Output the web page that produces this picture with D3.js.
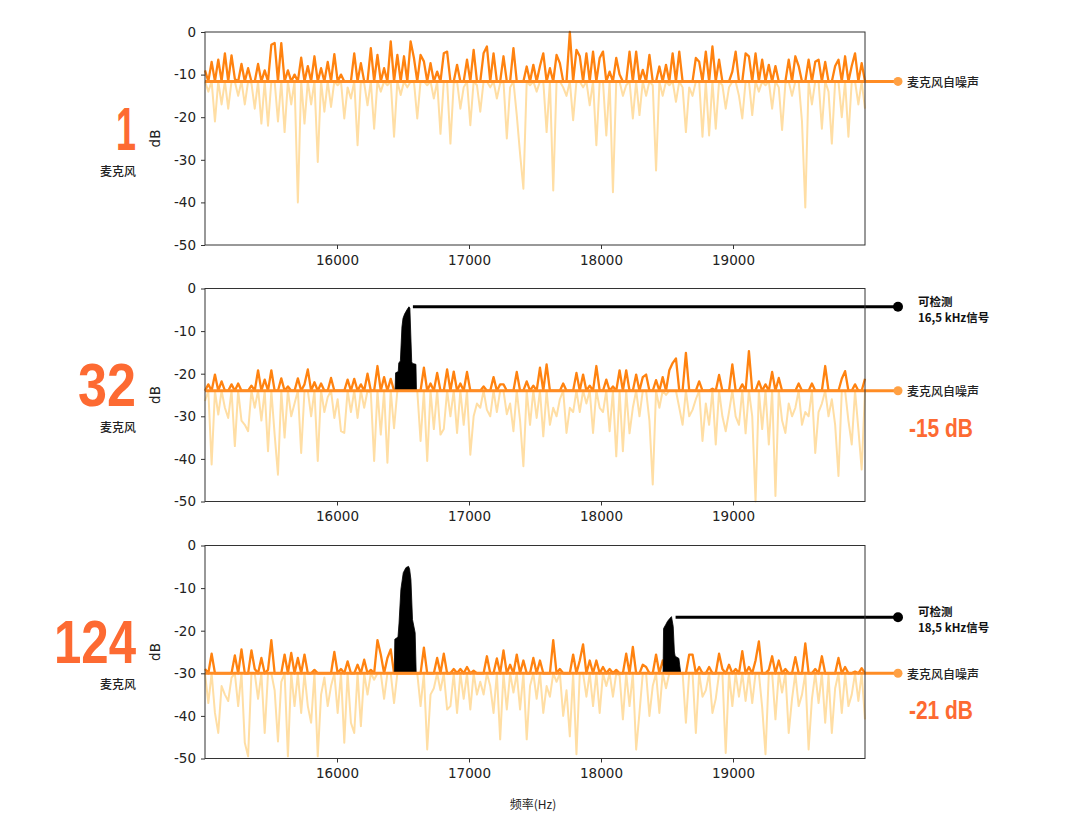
<!DOCTYPE html>
<html><head><meta charset="utf-8">
<script src="https://cdn.jsdelivr.net/npm/d3@7"></script>
<style>
html,body{margin:0;padding:0;background:#fff;}
svg{display:block;}
</style></head>
<body>
<script>
// ---------------- data ----------------
const micCounts = ["1", "32", "124"];
const micLabel = "麦克风";
const noiseLabel = "麦克风自噪声";
const detectLabel = "可检测";
const xTicks = [16000, 17000, 18000, 19000];
const yTicks = [0, -10, -20, -30, -40, -50];
const xDomain = [15000, 20000];
const yDomain = [-50, 0];
const noiseFloors = [-11.6, -24, -30];
const gainLabels = [null, "-15 dB", "-21 dB"];
const xLabel = "频率(Hz)";
const yLabel = "dB";

// spectrum samples (dB), 200 evenly spaced samples from 15000 to 20000 Hz
const noise1 = [-9,-14,-7,-21,-6.5,-17,-5,-18,-5.5,-11,-15,-7.5,-17,-8.5,-12,-18,-7.5,-21.5,-9,-22,
-3,-2.6,-21,-2.6,-23.5,-9,-17,-10,-40,-6,-21.5,-8,-17,-5.7,-30.5,-8.5,-18.7,-7,-17.6,-5.2,
-12.5,-10,-20.3,-13,-15.6,-5,-26.6,-7.3,-12,-17.2,-3.8,-22.7,-5.4,-14,-8.5,-12.5,-2.2,-24.6,-5.4,-14.8,
-5.7,-13,-2.2,-6.1,-20.3,-5.4,-6.9,-12.5,-7.3,-15.6,-9.3,-23.9,-5,-4.6,-26.2,-12,-7.7,-18,-13,-6.5,
-21.9,-4.2,-12.5,-18.7,-5,-3.4,-13,-5,-15.6,-12,-5.7,-25,-13,-3.8,-19.5,-28.6,-36.8,-8.1,-12.5,-7.7,
-14,-8,-5,-23.5,-8.5,-37.2,-5.4,-7.3,-13,-15,0,-20.7,-4.2,-5.7,-13,-5,-17.2,-4.6,-26.6,-6.1,
-4.6,-24.3,-9.3,-37.6,-6.1,-10,-15,-12.5,-4.6,-20.3,-4.6,-19.5,-8.9,-15,-5.4,-12.5,-32.5,-8.1,-15,-7.7,
-12.5,-5,-16.4,-4.6,-13,-23.5,-13,-15,-6.1,-7,-24.6,-4.6,-24.3,-3.4,-22.7,-6.5,-12.5,-18,-13,-9.3,
-4.6,-15,-20.3,-5,-5.7,-19.5,-5,-14,-6.5,-12.5,-7.7,-18,-8,-13,-23,-12,-6.5,-15,-5.7,-8,
-21,-41.2,-6.5,-17,-7,-6.5,-22.7,-7,-14,-26.2,-8,-6.5,-20,-5.7,-24.6,-8,-5,-17,-7.3,-18];

const noise32 = [-26.4,-22.5,-41.3,-20.2,-29.6,-21.8,-28,-30.4,-22.5,-37,-22.3,-31,-32,-33.5,-22.8,-28,-19.2,-31,-21.4,-38.2,
-19.2,-34.3,-43.7,-21.1,-35,-23,-30,-27,-21.1,-38.6,-22.5,-19,-30,-22,-40.5,-22.3,-29,-25.5,-21,-30.4,
-26,-33.5,-33.9,-21.4,-29,-21.2,-30.4,-22.5,-28,-20,-24.5,-40.5,-18.2,-34.3,-20.8,-40.9,-21.2,-32.8,-24,-24,
-24,-24,-24,-24,-24,-35.8,-18.6,-40.5,-22.3,-33,-19.8,-34.3,-33,-19,-30,-19.5,-33.9,-22.3,-32,-19.6,
-39,-30,-27,-28,-23,-28.5,-30,-20.8,-29,-22.5,-22.5,-29.5,-27,-33.5,-19.6,-31,-41.7,-21.8,-32,-22.8,
-30.4,-18.6,-34.7,-17.8,-32,-28,-30,-26,-22.3,-33.9,-28,-29,-19.8,-29,-20.2,-27,-22.8,-33.9,-18.2,-28,
-29,-21.4,-33.5,-23,-39.4,-19.2,-38.2,-19.2,-34,-28,-20.2,-30,-20.8,-20.2,-31,-46,-21.5,-28,-20.8,-25,
-19.2,-17.5,-16.4,-28,-32,-15.1,-30,-28.5,-26,-21.8,-35.8,-27,-32,-23.5,-36.6,-20.3,-30,-33.5,-29,-17.8,
-30,-32,-22.5,-34,-14.7,-30,-50,-21.8,-33,-22.5,-36.6,-19.6,-48.7,-21,-31,-33.9,-27,-30,-28,-22.3,
-32,-29,-30,-22.3,-38.6,-29,-27,-18.2,-30,-26,-32,-44,-21.2,-19.4,-31,-36.6,-22.5,-33,-42.5,-21.2];

const noise124 = [-29,-37,-25.4,-39.3,-44,-33,-35,-36.5,-31,-25.8,-37.7,-24.4,-46.3,-49.5,-24.6,-29,-36,-26.4,-44,-29.2,
-22.2,-34,-46,-32,-25.6,-49.5,-25.2,-37.7,-26.4,-39.3,-25.6,-37.7,-41.6,-29.2,-49.5,-35,-31,-37.7,-33,-25,
-39.3,-29,-46.3,-27.2,-41.6,-44,-28,-42.4,-26.8,-35,-29.2,-31.5,-22.2,-25.6,-36,-26.4,-24.4,-37,-30,-30,
-30,-30,-30,-30,-30,-37.7,-24,-47.9,-35,-33.5,-26.4,-34,-25.4,-38.5,-37.7,-29,-39.3,-29,-36,-28.5,
-38.5,-29.4,-35,-32,-35,-26,-33,-39.3,-26.5,-45.5,-24.6,-38.5,-28,-34.5,-25.6,-38.5,-27,-45.5,-33,-26.4,
-36,-27,-39.3,-33,-35.5,-22.2,-32,-29,-40,-34,-44.8,-25.6,-49,-27,-23.2,-35.5,-27,-37.7,-27,-39.3,
-28.5,-33,-29,-35.5,-29.2,-30.5,-40.8,-25.4,-37.7,-23.8,-47.9,-39.3,-28,-28.5,-40,-33,-25.6,-39.3,-27,-33.5,
-30,-30,-30,-30,-30,-41.6,-25.6,-25.6,-44,-28.5,-35.5,-34,-28.5,-39.3,-36,-25.4,-29,-48.7,-28,-37.7,
-29,-35.5,-24.8,-36.5,-28.5,-37,-27,-22.5,-38,-49,-29.2,-26,-40.8,-27,-34.5,-29,-44,-36,-26.2,-37.7,
-35,-23,-47.9,-36,-29,-37,-26,-41.6,-30.5,-44,-33.5,-26.4,-39.3,-28.5,-37.7,-35,-29.6,-36.5,-28.8,-40.8];

// detected test signals (frequency Hz, level dB)
const sig32Freq  = [16440,16444,16464,16468,16480,16492,16500,16512,16530,16545,16552,16566,16572,16598,16602];
const sig32Db    = [-24,-19.8,-19.5,-17.5,-17,-9,-7,-6,-5,-4.3,-4.6,-17.2,-17.6,-17.8,-24];
const sig124aFreq = [16434,16438,16462,16470,16484,16502,16522,16542,16550,16560,16572,16592,16600];
const sig124aDb   = [-30,-22,-21.5,-18.2,-10.3,-6.4,-5.2,-4.9,-5.5,-8,-17.4,-20.5,-30];
const sig124bFreq = [18470,18474,18490,18504,18522,18534,18547,18556,18562,18590,18604];
const sig124bDb   = [-30,-19.5,-18.6,-17.8,-17.1,-16.7,-19,-25,-26,-26.5,-30];

// annotation anchors: [freq, dB, line 2 text]
const annoFreqs = [null, 16575, 18565];
const annoDbs = [null, -4.3, -16.85];
const annoTexts = [null, "16,5 kHz信号", "18,5 kHz信号"];

// ---------------- drawing ----------------
const W = 1066, H = 834;
const svg = d3.select("body").append("svg").attr("width", W).attr("height", H)
  .style("background", "#fff");

const left = 205, right = 865;
const panelTops = [32, 288.5, 545.5];
const panelH = 213;
const noiseSeries = [noise1, noise32, noise124];
const signals = [[], [[sig32Freq, sig32Db]], [[sig124aFreq, sig124aDb], [sig124bFreq, sig124bDb]]];

const x = d3.scaleLinear().domain(xDomain).range([left, right]);
const dotX = 898;

const DARK = "#ff820f";
const LIGHT = "#ffdea4";
const FLOOR = "#ff8c24";
const RED = "#fd6a32";
const tickFont = "'DejaVu Sans', sans-serif";
const cjk = "'Noto Sans CJK SC', 'Noto Sans', sans-serif";
const bigFont = "'Liberation Sans Narrow', 'Liberation Sans', Roboto, sans-serif";

panelTops.forEach((top, p) => {
  const bottom = top + panelH;
  const y = d3.scaleLinear().domain(yDomain).range([bottom, top]);
  const floor = noiseFloors[p];
  const vals = noiseSeries[p];
  const n = vals.length;
  const pts = vals.map((v, i) => ({ f: xDomain[0] + i * (xDomain[1] - xDomain[0]) / (n - 1), v }));
  const g = svg.append("g");

  // light (below floor) line
  g.append("path").datum(pts)
    .attr("fill", "none").attr("stroke", LIGHT).attr("stroke-width", 2)
    .attr("stroke-linejoin", "round")
    .attr("d", d3.line().x(d => x(d.f)).y(d => y(Math.min(d.v, floor))));
  // dark (above floor) line
  g.append("path").datum(pts)
    .attr("fill", "none").attr("stroke", DARK).attr("stroke-width", 2.3)
    .attr("stroke-linejoin", "round")
    .attr("d", d3.line().x(d => x(d.f)).y(d => y(Math.max(d.v, floor))));

  // signals (black filled)
  signals[p].forEach(([fs, ds]) => {
    const sp = fs.map((f, i) => ({ f, v: ds[i] }));
    g.append("path").datum(sp)
      .attr("fill", "#000").attr("stroke", "#000").attr("stroke-width", 0.8)
      .attr("d", d3.area().x(d => x(d.f)).y0(y(floor)).y1(d => y(d.v)));
  });

  // noise floor line + dot + label
  g.append("line").attr("x1", left).attr("x2", dotX)
    .attr("y1", y(floor)).attr("y2", y(floor))
    .attr("stroke", FLOOR).attr("stroke-width", 3);
  g.append("circle").attr("cx", dotX).attr("cy", y(floor)).attr("r", 4.5).attr("fill", "#ffa043");
  g.append("text").attr("x", 907).attr("y", y(floor) + 2)
    .attr("dominant-baseline", "middle")
    .attr("font-family", cjk).attr("font-size", 12).attr("font-weight", 500).attr("fill", "#222")
    .text(noiseLabel);

  if (gainLabels[p]) {
    g.append("text").attr("x", 909).attr("y", y(floor) + 46)
      .attr("font-family", bigFont).attr("font-size", 26).attr("font-weight", 700).attr("fill", RED)
      .attr("textLength", 64).attr("lengthAdjust", "spacingAndGlyphs")
      .text(gainLabels[p]);
  }

  // annotation
  if (annoFreqs[p] !== null) {
    const ay = y(annoDbs[p]);
    g.append("line").attr("x1", x(annoFreqs[p])).attr("x2", dotX).attr("y1", ay).attr("y2", ay)
      .attr("stroke", "#000").attr("stroke-width", 3);
    g.append("circle").attr("cx", dotX).attr("cy", ay).attr("r", 5).attr("fill", "#000");
    g.append("text").attr("x", 918).attr("y", ay - 4)
      .attr("dominant-baseline", "middle")
      .attr("font-family", cjk).attr("font-size", 11.5).attr("font-weight", 700).attr("fill", "#111")
      .text(detectLabel);
    g.append("text").attr("x", 918).attr("y", ay + 12)
      .attr("dominant-baseline", "middle")
      .attr("font-family", cjk).attr("font-size", 11.5).attr("font-weight", 700).attr("fill", "#111")
      .text(annoTexts[p]);
  }

  // axes
  const xa = g.append("g").attr("transform", `translate(0,${bottom})`)
    .call(d3.axisBottom(x).tickValues(xTicks).tickSize(4).tickPadding(6).tickFormat(d3.format("d")));
  const ya = g.append("g").attr("transform", `translate(${left},0)`)
    .call(d3.axisLeft(y).tickValues(yTicks).tickSize(4).tickPadding(5).tickFormat(d => String(d)));
  [xa, ya].forEach(a => {
    a.select(".domain").remove();
    a.selectAll("line").attr("stroke", "#333");
    a.selectAll("text").attr("font-family", tickFont).attr("font-size", 13.5).attr("fill", "#222");
  });
  // frame
  g.append("rect").attr("x", left).attr("y", top).attr("width", right - left).attr("height", panelH)
    .attr("fill", "none").attr("stroke", "#333").attr("stroke-width", 1);

  // y label
  g.append("text").attr("transform", `translate(160,${top + panelH / 2}) rotate(-90)`)
    .attr("text-anchor", "middle")
    .attr("font-family", tickFont).attr("font-size", 13.5).attr("fill", "#222").text(yLabel);

  // mic count
  const widths = [20, 58, 82];
  g.append("text").attr("x", 136 - widths[p]).attr("y", top + panelH / 2 + 11)
    .attr("font-family", bigFont).attr("font-size", 62).attr("font-weight", 700).attr("fill", RED)
    .attr("textLength", widths[p]).attr("lengthAdjust", "spacingAndGlyphs")
    .text(micCounts[p]);
  g.append("text").attr("x", 118).attr("y", top + panelH / 2 + 34)
    .attr("text-anchor", "middle").attr("dominant-baseline", "middle")
    .attr("font-family", cjk).attr("font-size", 12).attr("font-weight", 500).attr("fill", "#222")
    .text(micLabel);
});

svg.append("text").attr("x", 533).attr("y", 806)
  .attr("text-anchor", "middle").attr("dominant-baseline", "middle")
  .attr("font-family", cjk).attr("font-size", 12).attr("fill", "#222").text(xLabel);
</script>
</body></html>
